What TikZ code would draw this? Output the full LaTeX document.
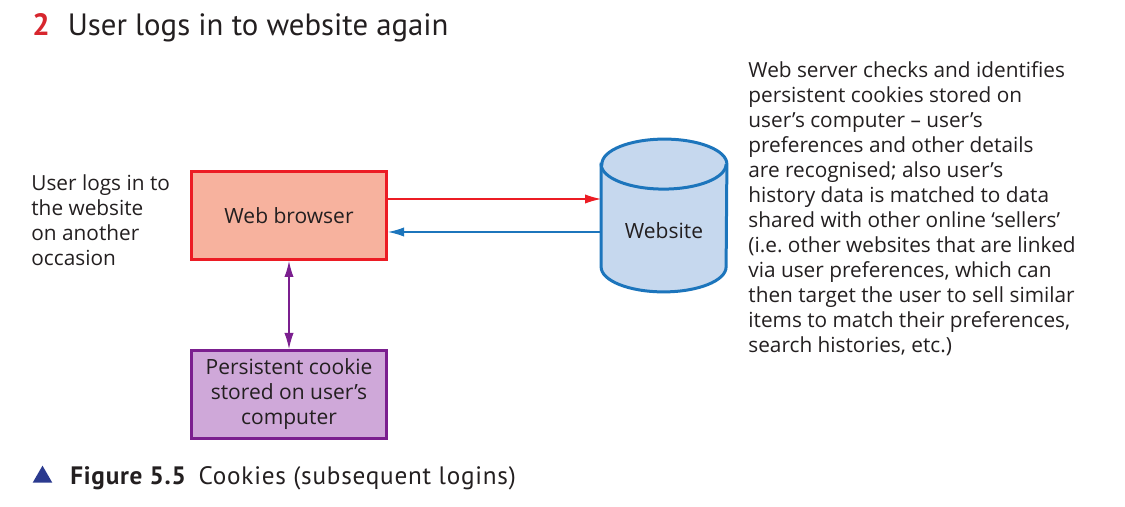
\documentclass[tikz,border=0pt]{standalone}
\usepackage{fontspec}
\setmainfont{Open Sans}
\newfontfamily\headfont{PT Sans}
\newfontfamily\capfont{PT Sans}[LetterSpace=3]
\usepackage{xcolor}
\usetikzlibrary{shapes.geometric, arrows.meta, positioning}
\definecolor{numred}{HTML}{D7262E}
\definecolor{boxred}{HTML}{EC1C24}
\definecolor{browserfill}{HTML}{F7B29E}
\definecolor{siteblue}{HTML}{1C75BC}
\definecolor{sitefill}{HTML}{C6D8EE}
\definecolor{cookiepurple}{HTML}{7B1F8F}
\definecolor{cookiefill}{HTML}{CFA8D9}
\definecolor{markblue}{HTML}{2B3A8F}
\definecolor{inktext}{HTML}{231F20}
\tikzset{
    box/.style={rectangle, draw, line width=1.5pt, minimum width=97.5pt, minimum height=44pt, align=center, text=inktext, font=\fontsize{10.5}{12.5}\selectfont},
    note/.style={anchor=north west, align=left, inner sep=0pt, text=inktext, font=\fontsize{10.4}{12.5}\selectfont},
    link/.style={line width=0.6pt, -{Latex[length=8pt,width=4.6pt]}}
}

\begin{document}
\begin{tikzpicture}[x=0.5pt, y=-0.5pt]
    \useasboundingbox (0,0) rectangle (1125,507);
    \node (title) [anchor=base west, inner sep=0pt, text=inktext, font=\headfont\fontsize{15.4}{18}\selectfont] at (32,36) {\textcolor{numred}{\textbf{2}}\hspace{9pt}User logs in to website again};
    \node (browser) [box, draw=boxred, fill=browserfill] at (289,215.5) {Web browser};
    \node (cookie) [box, draw=cookiepurple, fill=cookiefill, below=44pt of browser] {Persistent cookie\\stored on user's\\computer};

    % website drum
    \node (site) [rectangle, inner sep=0pt, minimum width=62.5pt, minimum height=76pt] at (664,215.5) {};
    \draw [siteblue, line width=1.5pt, fill=sitefill]
        ([yshift=-12.5pt]site.north west) -- ([yshift=12.5pt]site.south west)
        arc[start angle=180, end angle=360, x radius=31.25pt, y radius=12.5pt]
        -- ([yshift=-12.5pt]site.north east)
        arc[start angle=0, end angle=180, x radius=31.25pt, y radius=12.5pt] -- cycle;
    \draw [siteblue, line width=1.5pt] ([yshift=-12.5pt]site.north west)
        arc[start angle=180, end angle=360, x radius=31.25pt, y radius=12.5pt];
    \node (sitename) [text=inktext, font=\fontsize{10.5}{12.5}\selectfont] at ([yshift=-7.75pt]site.center) {Website};

    \node (who) [note] at (31,174) {User logs in to\\the website\\on another\\occasion};
    \node (server) [note] at (748,61) {Web server checks and identifies\\persistent cookies stored on\\user's computer -- user's\\preferences and other details\\are recognised; also user's\\history data is matched to data\\shared with other online `sellers'\\(i.e.\ other websites that are linked\\via user preferences, which can\\then target the user to sell similar\\items to match their preferences,\\search histories, etc.)};

    \draw [link, boxred] ([yshift=8.25pt]browser.east) -- ([yshift=8.25pt]browser.east -| site.west);
    \draw [link, siteblue] ([yshift=-8.25pt]browser.east -| site.west) -- ([yshift=-8.25pt]browser.east);
    \draw [link, cookiepurple, {Latex[length=8pt,width=4.6pt]}-{Latex[length=8pt,width=4.6pt]}] (browser) -- (cookie);

    \node (mark) [isosceles triangle, isosceles triangle apex angle=60, shape border rotate=90, fill=markblue, inner sep=0pt, minimum height=8.5pt] at (42.5,477) {};
    \node (caption) [anchor=base west, inner sep=0pt, text=inktext, font=\capfont\fontsize{12.6}{14}\selectfont] at (70,485) {\textbf{Figure 5.5}\hspace{6pt}Cookies (subsequent logins)};
\end{tikzpicture}
\end{document}
